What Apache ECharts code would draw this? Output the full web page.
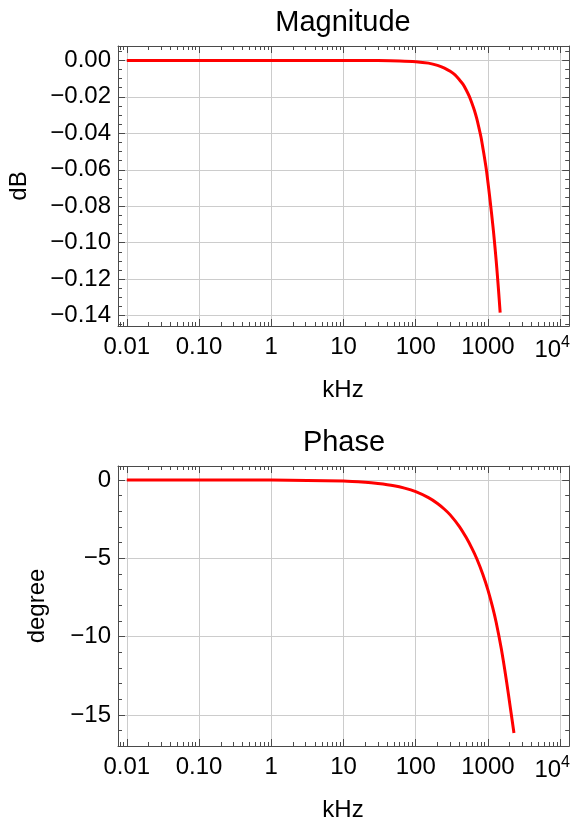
<!DOCTYPE html>
<html><head><meta charset="utf-8">
<script src="https://cdn.jsdelivr.net/npm/echarts@6/dist/echarts.min.js"></script>
<style>html,body{margin:0;padding:0;background:#fff}#c{width:581px;height:822px}</style>
</head><body><div id="c"></div>
<script>
// ---- data ----
const freqMag = [0.01, 0.1, 1, 10, 30, 60, 100, 150, 200, 250, 300, 350, 400, 450, 500, 550, 600, 650, 700, 750, 800, 850, 900, 950, 1000, 1050, 1100, 1150, 1200, 1250, 1300, 1350, 1400, 1475];
const magDb   = [0, 0, 0, 0, -0.0001, -0.0003, -0.0007, -0.0015, -0.0027, -0.0042, -0.006, -0.008, -0.0105, -0.013, -0.0162, -0.0196, -0.0235, -0.0275, -0.032, -0.037, -0.042, -0.048, -0.054, -0.060, -0.067, -0.074, -0.081, -0.088, -0.095, -0.1025, -0.110, -0.118, -0.126, -0.1384];
const freqPhase = [0.01, 0.1, 1, 10, 20, 30, 50, 70, 100, 150, 200, 250, 300, 400, 500, 600, 700, 850, 1000, 1150, 1300, 1530, 1800, 2050, 2290];
const phaseDeg  = [0, 0, -0.01, -0.07, -0.15, -0.23, -0.37, -0.52, -0.75, -1.13, -1.5, -1.87, -2.23, -2.96, -3.68, -4.37, -5.03, -6.03, -7.03, -8.06, -9.1, -10.78, -12.8, -14.6, -16.15];
const xTickValues = [0.01, 0.1, 1, 10, 100, 1000, 10000];
const xTickLabels = ['0.01', '0.10', '1', '10', '100', '1000', '10^4'];
const magTickValues = [0, -0.02, -0.04, -0.06, -0.08, -0.10, -0.12, -0.14];
const magTickLabels = ['0.00', '\u22120.02', '\u22120.04', '\u22120.06', '\u22120.08', '\u22120.10', '\u22120.12', '\u22120.14'];
const phaseTickValues = [0, -5, -10, -15];
const phaseTickLabels = ['0', '\u22125', '\u221210', '\u221215'];
const titles = ['Magnitude', 'Phase'];
const yNames = ['dB', 'degree'];
const xName = 'kHz';

// ---- styling / layout ----
const FONT = "'Liberation Sans', Arial, sans-serif";
const frameColor = '#4a4a4a';
const gridColor = '#cccccc';
const X_MIN = Math.pow(10, -2.122), X_MAX = Math.pow(10, 4.1245);
const magRange = [-0.1457, 0.0079];
const phaseRange = [-16.98, 0.89];

const xMinor = [];
for (let k = -3; k <= 4; k++) for (let m = 2; m <= 9; m++) {
  const v = parseFloat((m * Math.pow(10, k)).toPrecision(6));
  if (v > X_MIN && v < X_MAX) xMinor.push(v);
}
function minorVals(lo, hi, step, majorStep) {
  const out = [];
  const n0 = Math.ceil(lo / step - 1e-9), n1 = Math.floor(hi / step + 1e-9);
  const r = Math.round(majorStep / step);
  for (let i = n0; i <= n1; i++) if (i % r !== 0) out.push(parseFloat((i * step).toFixed(6)));
  return out;
}
const magMinor = minorVals(magRange[0], magRange[1], 0.005, 0.02);
const phaseMinor = minorVals(phaseRange[0], phaseRange[1], 1, 5);

function xLabelFmt(value) {
  const i = Math.round(Math.log10(value)) + 2;
  const s = xTickLabels[i] || '';
  if (s.indexOf('^') >= 0) { const p = s.split('^'); return '{b|' + p[0] + '}{s|' + p[1] + '}{p|}'; }
  return s;
}
function yFmt(vals, labels) {
  return function (value) {
    for (let i = 0; i < vals.length; i++) if (Math.abs(vals[i] - value) < 1e-7) return labels[i];
    return '';
  };
}
const lineOn = { show: true, onZero: false, lineStyle: { color: frameColor, width: 1 } };
const lineOff = { show: false, onZero: false };
const LBL = 24;

function xAxesFor(g) {
  const base = { type: 'log', logBase: 10, gridIndex: g, min: X_MIN, max: X_MAX, minorTick: { show: false }, minorSplitLine: { show: false } };
  return [
    Object.assign({}, base, {
      position: 'bottom', axisLine: lineOn,
      axisTick: { show: true, inside: true, length: 7, customValues: xTickValues, lineStyle: { color: frameColor, width: 1 } },
      axisLabel: { show: true, customValues: xTickValues, formatter: xLabelFmt, margin: 9, color: '#000', fontSize: LBL, fontFamily: FONT,
        rich: { b: { fontSize: LBL, fontFamily: FONT, color: '#000', padding: [3, 0, 0, 0] },
                s: { fontSize: 16, fontFamily: FONT, color: '#000', verticalAlign: 'top', lineHeight: 16 },
                p: { width: 16 } } },
      splitLine: { show: true, lineStyle: { color: gridColor, width: 1 } }
    }),
    Object.assign({}, base, {
      position: 'bottom', axisLine: lineOff,
      axisTick: { show: true, inside: true, length: 4, customValues: xMinor, lineStyle: { color: frameColor, width: 1 } },
      axisLabel: { show: false }, splitLine: { show: false }
    }),
    Object.assign({}, base, {
      position: 'top', axisLine: lineOn,
      axisTick: { show: true, inside: true, length: 7, customValues: xTickValues, lineStyle: { color: frameColor, width: 1 } },
      axisLabel: { show: false }, splitLine: { show: false }
    }),
    Object.assign({}, base, {
      position: 'top', axisLine: lineOff,
      axisTick: { show: true, inside: true, length: 4, customValues: xMinor, lineStyle: { color: frameColor, width: 1 } },
      axisLabel: { show: false }, splitLine: { show: false }
    })
  ];
}
function yAxesFor(g, range, majors, minors, labels, splitNumber) {
  const base = { type: 'value', gridIndex: g, min: range[0], max: range[1], splitNumber: splitNumber, minorTick: { show: false }, minorSplitLine: { show: false } };
  return [
    Object.assign({}, base, {
      position: 'left', axisLine: lineOn,
      axisTick: { show: true, inside: true, length: 7, customValues: majors, lineStyle: { color: frameColor, width: 1 } },
      axisLabel: { show: true, customValues: majors, formatter: yFmt(majors, labels), margin: 7, color: '#000', fontSize: LBL, fontFamily: FONT },
      splitLine: { show: true, lineStyle: { color: gridColor, width: 1 } }
    }),
    Object.assign({}, base, {
      position: 'left', axisLine: lineOff,
      axisTick: { show: true, inside: true, length: 4, customValues: minors, lineStyle: { color: frameColor, width: 1 } },
      axisLabel: { show: false }, splitLine: { show: false }
    }),
    Object.assign({}, base, {
      position: 'right', axisLine: lineOn,
      axisTick: { show: true, inside: true, length: 7, customValues: majors, lineStyle: { color: frameColor, width: 1 } },
      axisLabel: { show: false }, splitLine: { show: false }
    }),
    Object.assign({}, base, {
      position: 'right', axisLine: lineOff,
      axisTick: { show: true, inside: true, length: 4, customValues: minors, lineStyle: { color: frameColor, width: 1 } },
      axisLabel: { show: false }, splitLine: { show: false }
    })
  ];
}

function txt(text, x, y, size, rot) {
  return { type: 'text', x: x, y: y, rotation: rot || 0, silent: true,
    style: { text: text, x: 0, y: 0, fill: '#000', font: size + 'px ' + FONT, textAlign: 'center', textVerticalAlign: 'middle' } };
}

const chart = echarts.init(document.getElementById('c'), null, { renderer: 'canvas' });
chart.setOption({
  animation: false,
  backgroundColor: '#fff',
  grid: [
    { left: 118, right: 11, top: 46, height: 280, containLabel: false },
    { left: 118, right: 11, top: 466, height: 280, containLabel: false }
  ],
  xAxis: xAxesFor(0).concat(xAxesFor(1)),
  yAxis: yAxesFor(0, magRange, magTickValues, magMinor, magTickLabels, 8)
    .concat(yAxesFor(1, phaseRange, phaseTickValues, phaseMinor, phaseTickLabels, 4)),
  series: [
    { type: 'line', xAxisIndex: 0, yAxisIndex: 0, data: freqMag.map((f, i) => [f, magDb[i]]),
      showSymbol: false, symbol: 'none', smooth: 0.3, lineStyle: { color: '#ff0000', width: 3 } },
    { type: 'line', xAxisIndex: 4, yAxisIndex: 4, data: freqPhase.map((f, i) => [f, phaseDeg[i]]),
      showSymbol: false, symbol: 'none', smooth: 0.3, lineStyle: { color: '#ff0000', width: 3 } }
  ],
  graphic: [
    txt(titles[0], 343, 23, 29),
    txt(titles[1], 344, 443, 29),
    txt(yNames[0], 19, 186, 24, Math.PI / 2),
    txt(yNames[1], 37, 606, 24, Math.PI / 2),
    txt(xName, 343, 390, 24),
    txt(xName, 343, 810, 24)
  ]
});
</script></body></html>
